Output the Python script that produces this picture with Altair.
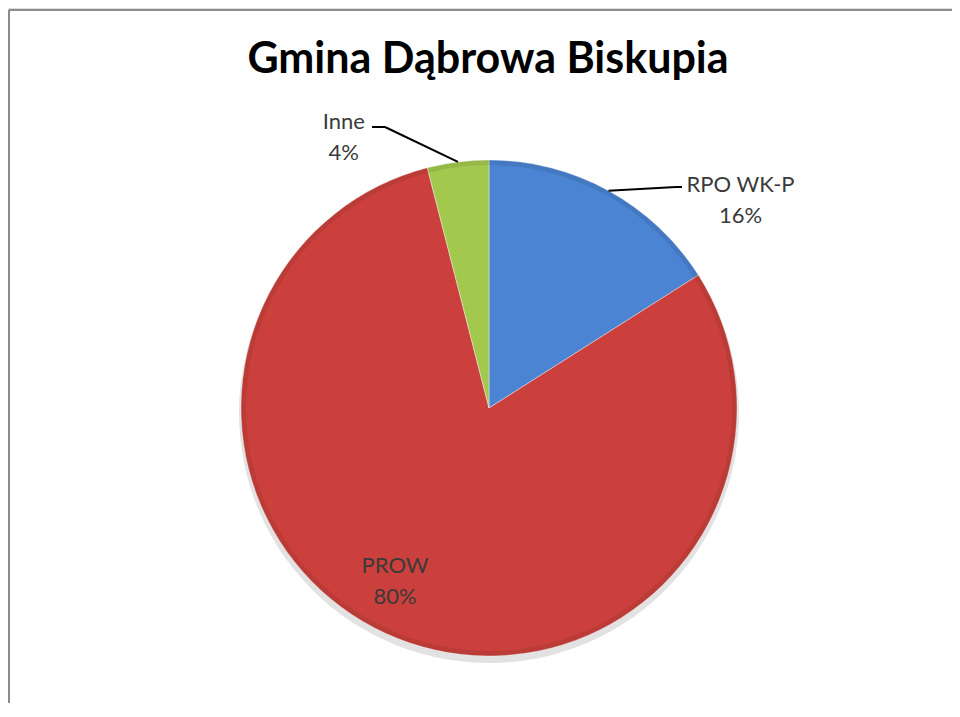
import altair as alt
import pandas as pd

# ---- data ----
TITLE = "Gmina Dąbrowa Biskupia"
categories = ["RPO WK-P", "PROW", "Inne"]
values = [16, 80, 4]
order = [0, 1, 2]
colors = ["#4a84d3", "#cb403c", "#a2c84e"]

df = pd.DataFrame({"category": categories, "value": values, "order": order})

# ---- layout / style ----
W, H = 944, 695
CX, CY = 481, 400
R = 248
FONT = "Lato"

base = (
    alt.Chart(df)
    .transform_joinaggregate(total="sum(value)")
    .transform_window(cum="sum(value)", sort=[alt.SortField("order")], frame=[None, 0])
    .transform_calculate(
        mid="(datum.cum - datum.value / 2) / datum.total * 2 * PI",
        lbl="datum.category + '\\n' + round(datum.value / datum.total * 100) + '%'",
        px=f"{CX} + {R} * sin((datum.cum - datum.value / 2) / datum.total * 2 * PI)",
        py=f"{CY} - {R} * cos((datum.cum - datum.value / 2) / datum.total * 2 * PI)",
    )
)

color_enc = alt.Color(
    "category:N", scale=alt.Scale(domain=categories, range=colors), legend=None
)

shadow = alt.Chart(df).mark_arc(outerRadius=R + 2, color="#e2e2e2").encode(
    theta=alt.Theta("value:Q", stack=True),
    order=alt.Order("order:Q"),
    x=alt.value(CX),
    y=alt.value(CY + 5),
)

pie = alt.Chart(df).mark_arc(outerRadius=R, stroke="#ffffff", strokeWidth=0.4).encode(
    theta=alt.Theta("value:Q", stack=True),
    color=color_enc,
    order=alt.Order("order:Q"),
    x=alt.value(CX),
    y=alt.value(CY),
)

# subtle darker rim (bevel impression)
rim = alt.Chart(df).mark_arc(
    outerRadius=R, innerRadius=R - 5, color="#000000", opacity=0.08
).encode(
    theta=alt.Theta("value:Q", stack=True),
    order=alt.Order("order:Q"),
    x=alt.value(CX),
    y=alt.value(CY),
)

label_style = dict(
    font=FONT, fontSize=22, color="#3a3a3a", align="center", baseline="middle",
    lineBreak="\n", lineHeight=31,
)
label_geom = {
    "Inne": dict(radius=273, dx=-111, dy=-15),
    "RPO WK-P": dict(radius=300, dx=107, dy=40),
    "PROW": dict(radius=190, dx=-24, dy=-19),
}
labels = []
for c in categories:
    g = label_geom[c]
    labels.append(
        base.transform_filter(alt.datum.category == c)
        .mark_text(radius=g["radius"], dx=g["dx"], dy=g["dy"], **label_style)
        .encode(
            theta=alt.Theta("mid:Q", scale=None),
            text="lbl:N",
            x=alt.value(CX),
            y=alt.value(CY),
        )
    )

# leader lines (slice edge -> elbow -> short horizontal)
leader_geom = {
    "Inne": [(377, 119), (364, 119)],
    "RPO WK-P": [(668, 179), (674, 179)],
}
leaders = []
for c, pts in leader_geom.items():
    (ex, ey), (hx, hy) = pts
    leaders.append(
        base.transform_filter(alt.datum.category == c)
        .mark_rule(color="#000000", strokeWidth=2)
        .encode(
            x=alt.X("px:Q", scale=None),
            y=alt.Y("py:Q", scale=None),
            x2=alt.value(ex),
            y2=alt.value(ey),
        )
    )
    leaders.append(
        base.transform_filter(alt.datum.category == c)
        .mark_rule(color="#000000", strokeWidth=2)
        .encode(x=alt.value(ex), x2=alt.value(hx), y=alt.value(ey))
    )

title = alt.Chart(df).transform_filter(alt.datum.order == 0).mark_text(
    font=FONT, fontSize=43, fontWeight="bold", color="#000000",
    align="center", baseline="alphabetic",
).encode(text=alt.value(TITLE), x=alt.value(480), y=alt.value(65))

frame_left = alt.Chart(df).transform_filter(alt.datum.order == 0).mark_rule(
    color="#8c8c8c", strokeWidth=2
).encode(x=alt.value(1), y=alt.value(2), y2=alt.value(H))
frame_top = alt.Chart(df).transform_filter(alt.datum.order == 0).mark_rule(
    color="#8c8c8c", strokeWidth=2
).encode(x=alt.value(1), x2=alt.value(W), y=alt.value(2))

chart = (
    alt.layer(frame_left, frame_top, shadow, pie, rim, *leaders, *labels, title)
    .properties(width=W, height=H, padding=0, autosize=alt.AutoSizeParams(type="none"))
    .configure_view(stroke=None)
    .configure(background="#ffffff")
)

chart.save("out.html", embed_options={"renderer": "svg", "actions": False})
